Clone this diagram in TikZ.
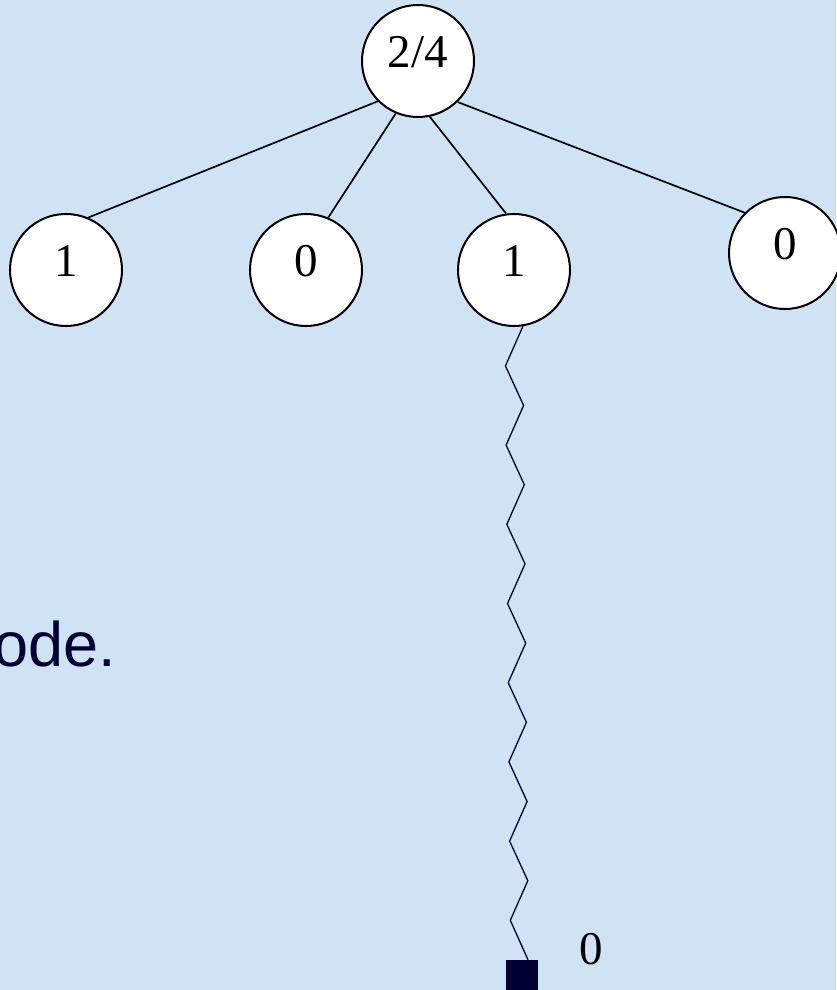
\documentclass[tikz,border=0pt]{standalone}
\usepackage{fontspec}
\setmainfont{Liberation Serif}
\newfontfamily\arialfont{Liberation Sans}
\definecolor{slidebg}{RGB}{208,227,245}
\definecolor{slidenavy}{RGB}{0,0,51}
\tikzset{
    ball/.style={circle, draw=black, line width=2pt, fill=white,
        minimum size=112pt, inner sep=0pt},
    vtext/.style={font=\fontsize{47}{47}\selectfont, inner sep=0pt, yshift=9pt},
    edge/.style={draw=black, line width=1.7pt},
    zig/.style={draw=slidenavy, line width=1.3pt, line join=miter},
    sinkbox/.style={rectangle, fill=slidenavy, minimum size=32pt, inner sep=0pt},
}

\begin{document}
\begin{tikzpicture}[x=1pt, y=-1pt]
    \useasboundingbox (0,0) rectangle (836,990);
    \fill[slidebg] (0,0) rectangle (836,990);
    % tree
    \node[ball, label={[vtext]center:2/4}] (root) at (418,61) {};
    \node[ball, label={[vtext]center:1}] (c1) at (66,270) {};
    \node[ball, label={[vtext]center:0}] (c2) at (306,270) {};
    \node[ball, label={[vtext]center:1}] (c3) at (514,270) {};
    \node[ball, label={[vtext]center:0}] (c4) at (785,253) {};
    \draw[edge] (root.225) -- (c1.67);
    \draw[edge] (root.247) -- (c2.67);
    \draw[edge] (root.282) -- (c3.98);
    \draw[edge] (root.314) -- (c4.135);
    % long path down to the leaf
    \node[sinkbox] (sink) at (522,976) {};
    \node[font=\fontsize{47}{47}\selectfont, inner sep=0pt] (sinkval) at (591,949) {0};
    \draw[zig] (c3.-81)
        \foreach \k in {1,...,7} { -- ++(-17.5,39.6) -- ++(18.2,39.6) }
        -- ++(-17.5,39.6) -- ([xshift=6pt]sink.north);
    \node[anchor=base west, inner sep=0pt, text=slidenavy,
        font=\arialfont\fontsize{63}{63}\selectfont] (caption) at (-6.8,666) {ode.};
\end{tikzpicture}
\end{document}
